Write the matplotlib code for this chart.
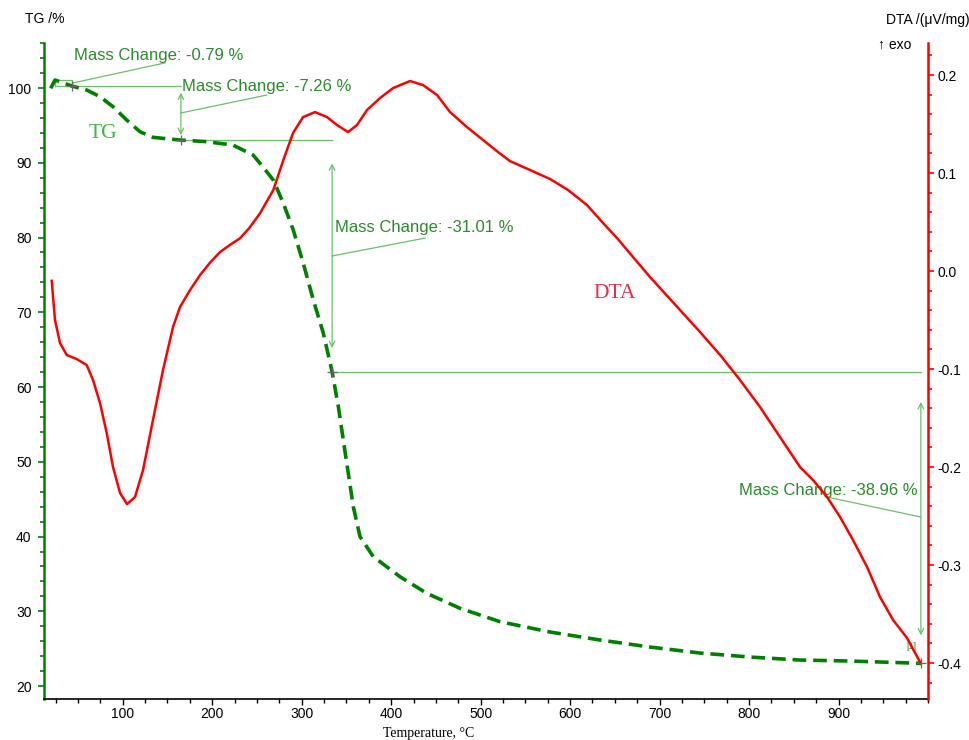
import matplotlib
matplotlib.use("Agg")
import matplotlib.pyplot as plt
from matplotlib.ticker import MultipleLocator

plt.rcParams['font.family'] = ['Liberation Sans', 'DejaVu Sans']

# TG curve (temperature in C, mass in %)
temp_tg = [19.5, 24.3, 29.9, 43, 59.7, 74.6, 89.1, 104.4, 119.3, 133.8, 164,
           193.8, 223.2, 245.6, 253.4, 268.3, 279.5, 290.6, 301.8, 313, 324.2,
           333.6, 341, 346.5, 352.1, 357.7, 365.2, 380.1, 409.9, 439.7, 477,
           521.7, 577.6, 633.5, 689.3, 745.2, 801.1, 857, 912.9, 992.2]
tg = [99.96, 101.07, 100.84, 100.27, 99.73, 98.84, 97.5, 95.72, 94.15, 93.4,
      93.04, 92.82, 92.37, 91.04, 89.93, 87.69, 84.58, 81.0, 76.55, 71.64,
      67.19, 62.28, 57.37, 52.91, 48.46, 43.99, 39.98, 37.3, 34.63, 32.41,
      30.4, 28.61, 27.23, 26.16, 25.22, 24.42, 23.88, 23.48, 23.35, 23.04]

# DTA curve (uV/mg)
temp_dta = [20.6, 24.3, 29.9, 37.4, 48.5, 59.7, 66.8, 74.6, 82.1, 89.1, 97,
            104.8, 113.7, 122.7, 133.8, 145, 156.2, 164, 175.2, 186.4, 197.5,
            208.7, 220, 231.1, 242, 253.4, 268.3, 279.5, 290.3, 301.5, 314.9,
            328.3, 339.5, 351.8, 361.8, 373, 387.5, 402.1, 421.1, 435.6, 451.3,
            465.8, 484.8, 502.7, 519.5, 532.8, 555.2, 577.6, 597.7, 618.9,
            636.8, 652.4, 670.3, 689.3, 711.7, 745, 768, 789.9, 812.3, 834.6,
            857, 871.5, 887.2, 901.7, 916.2, 931.9, 946.4, 961, 976.6, 991.1]
dta = [-0.010, -0.050, -0.0735, -0.0857, -0.0898, -0.0959, -0.1112, -0.1347,
       -0.1653, -0.2, -0.2265, -0.2378, -0.2306, -0.203, -0.152, -0.101,
       -0.0571, -0.0367, -0.0194, -0.0041, 0.0085, 0.0194, 0.0268, 0.0334,
       0.0445, 0.0589, 0.0827, 0.1133, 0.1408, 0.1571, 0.1622, 0.1571, 0.149,
       0.1418, 0.149, 0.1643, 0.1765, 0.1867, 0.1939, 0.1898, 0.1796, 0.1622,
       0.1469, 0.1337, 0.1214, 0.1122, 0.1031, 0.0939, 0.0827, 0.0673, 0.049,
       0.0337, 0.0143, -0.0061, -0.0286, -0.062, -0.086, -0.1112, -0.1388,
       -0.1694, -0.2, -0.2133, -0.2306, -0.251, -0.2745, -0.302, -0.3327,
       -0.3561, -0.3745, -0.399]

# mass change steps
start_mass = 101.06
mass_changes = [-0.79, -7.26, -31.01, -38.96]
step_temps = [24.3, 43, 165, 334, 992]

levels = [start_mass]
for dm in mass_changes:
    levels.append(round(levels[-1] + dm, 2))

green = '#008000'
ann_line = '#6cbf6c'
ann_text = '#2b8a2b'

fig = plt.figure(figsize=(9.7, 7.4), dpi=100)
ax = fig.add_axes([44 / 970, 1 - 699 / 740, 884 / 970, 656 / 740])
ax2 = ax.twinx()

ax.plot(temp_tg, tg, color=green, lw=2.6, dashes=(3.8, 1.9), zorder=3)
ax2.plot(temp_dta, dta, color='red', lw=1.8, zorder=3)

ax.set_xlim(12, 1000)
ax.set_ylim(18.27, 106.02)
ax2.set_ylim(-0.4367, 0.2327)

ax.xaxis.set_major_locator(MultipleLocator(100))
ax.xaxis.set_minor_locator(MultipleLocator(25))
ax.yaxis.set_major_locator(MultipleLocator(10))
ax.yaxis.set_minor_locator(MultipleLocator(2))
ax2.yaxis.set_major_locator(MultipleLocator(0.1))
ax2.yaxis.set_minor_locator(MultipleLocator(0.02))
ax.set_xticks(range(100, 1000, 100))

for a in (ax, ax2):
    a.spines['top'].set_visible(False)
ax.spines['left'].set_color(green)
ax.spines['left'].set_linewidth(1.8)
ax.spines['right'].set_visible(False)
ax.spines['bottom'].set_linewidth(1.2)
ax2.spines['right'].set_color('red')
ax2.spines['right'].set_linewidth(1.8)
ax2.spines['left'].set_visible(False)
ax2.spines['bottom'].set_visible(False)

ax.tick_params(axis='x', which='major', length=4, width=1, pad=1.5, labelsize=10)
ax.tick_params(axis='x', which='minor', length=3, width=1)
ax.tick_params(axis='y', which='major', length=4, width=1.2, color=green,
               pad=5, labelsize=10)
ax.tick_params(axis='y', which='minor', length=3, width=1.2, color=green)
ax2.tick_params(axis='y', which='major', length=4, width=1.2, color='red',
                pad=3, labelsize=10)
ax2.tick_params(axis='y', which='minor', length=3, width=1.2, color='red')
ax2.yaxis.set_major_formatter(plt.FuncFormatter(lambda v, p: f'{v:.1f}'))

# step markers and horizontal reference lines
m0, m1, m2, m3, m4 = levels
t0, t1, t2, t3, t4 = step_temps
ax.plot([t0, t1, t1, t0, t0], [m0, m0, m1, m1, m0], color=ann_line, lw=0.9)
ax.plot([t1, t2], [m1, m1], color=ann_line, lw=0.9)
ax.plot([t2, t3], [m2, m2], color=ann_line, lw=0.9)
ax.plot([t3, t4], [m3, m3], color=ann_line, lw=0.9)
ax.plot([t1, t2, t3, t4], [m1, m2, m3, m4], ls='none', marker='+',
        color='#666666', ms=7, mew=0.9, zorder=5)

# double arrows spanning each step
arrow_spans = [(t2, m1 - 0.9, m2 + 0.7), (t3, m2 - 3.1, m3 + 3.2),
               (t4, m3 - 4.0, m4 + 3.75)]
for x, ya, yb in arrow_spans:
    ax.annotate('', xy=(x, yb), xytext=(x, ya),
                arrowprops=dict(arrowstyle='<->', color=ann_line, lw=0.9,
                                shrinkA=0, shrinkB=0, mutation_scale=10))

# labels with leader lines
ax.plot([t1 + 1, 147], [(m0 + m1) / 2, 103.35], color=ann_line, lw=0.9)
ax.text(45.5, 103.4, f'Mass Change: {mass_changes[0]:.2f} %', color=ann_text,
        fontsize=12, va='bottom')

ax.plot([t2, 261], [96.66, 99.06], color=ann_line, lw=0.9)
ax.text(166, 99.2, f'Mass Change: {mass_changes[1]:.2f} %', color=ann_text,
        fontsize=12, va='bottom')

ax.plot([t3, 438], [77.53, 79.93], color=ann_line, lw=0.9)
ax.text(337, 80.3, f'Mass Change: {mass_changes[2]:.2f} %', color=ann_text,
        fontsize=12, va='bottom')

ax.plot([t4, 887], [42.61, 45.29], color=ann_line, lw=0.9)
ax.text(988, 45.1, f'Mass Change: {mass_changes[3]:.2f} %', color=ann_text,
        fontsize=12, va='bottom', ha='right')
ax.text(981, 25.3, '[1]', color=ann_text, fontsize=6.5, ha='center',
        va='center')

# curve names
ax.text(62, 93.3, 'TG', color='#3cb83c', fontsize=15.5,
        family='Liberation Serif', va='baseline')
ax2.text(626, -0.028, 'DTA', color='#e0304a', fontsize=15.5,
         family='Liberation Serif', va='baseline')

# axis titles
fig.text(25 / 970, 1 - 19 / 740, 'TG /%', fontsize=10, va='center')
fig.text(886 / 970, 1 - 20 / 740, 'DTA /(μV/mg)', fontsize=10, va='center')
fig.text(878 / 970, 1 - 45 / 740, '↑ exo', fontsize=10, va='center')
fig.text(429 / 970, 1 - 734 / 740, 'Temperature, °C', fontsize=10,
         family='Liberation Serif', ha='center', va='center')

fig.savefig('out.png', dpi=100)
